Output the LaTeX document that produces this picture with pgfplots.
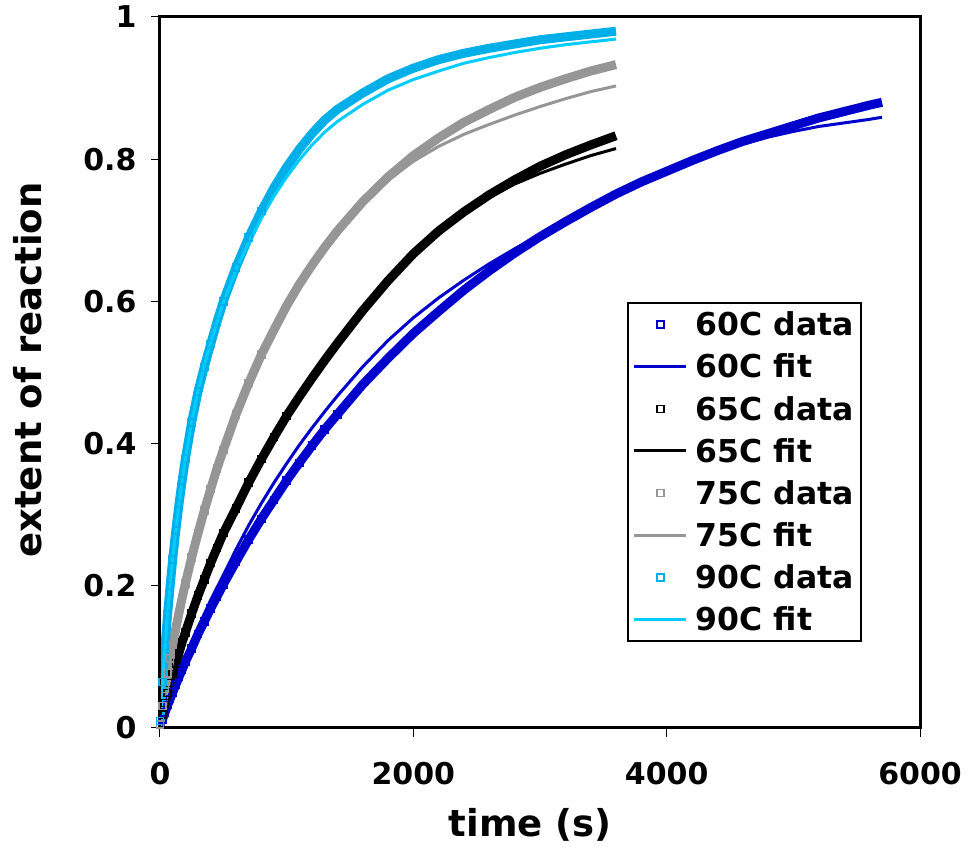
\documentclass[border=0pt]{standalone}
\usepackage{pgfplots}
\pgfplotsset{compat=1.18}
\usepackage{pgfplotstable}
\usepackage{fontspec}
\setmainfont{DejaVu Sans}
\definecolor{c60}{RGB}{0,0,204}
\definecolor{c75}{RGB}{150,150,150}
\definecolor{c90d}{RGB}{0,174,232}
\definecolor{c90f}{RGB}{0,204,255}

% 60C data
\pgfplotstableread{
t y
0 0.005
20 0.012
40 0.022
60 0.032
80 0.041
100 0.050
125 0.061
150 0.072
175 0.082
200 0.093
250 0.112
300 0.132
350 0.150
400 0.168
450 0.185
500 0.202
600 0.234
700 0.265
800 0.294
900 0.321
1000 0.348
1100 0.373
1200 0.397
1300 0.420
1400 0.441
1600 0.483
1800 0.520
2000 0.555
2200 0.586
2400 0.616
2600 0.643
2800 0.668
3000 0.691
3200 0.712
3400 0.732
3600 0.751
3800 0.768
4000 0.783
4200 0.798
4400 0.812
4600 0.825
4800 0.836
5000 0.847
5200 0.858
5400 0.867
5600 0.876
5700 0.880
}\dsixty
% 60C fit
\pgfplotstableread{
t y
0 0.000
100 0.054
200 0.099
300 0.141
400 0.180
500 0.215
600 0.251
700 0.285
800 0.316
900 0.345
1000 0.372
1100 0.398
1200 0.422
1300 0.445
1400 0.467
1600 0.508
1800 0.545
2000 0.577
2200 0.605
2400 0.630
2600 0.653
2800 0.674
3000 0.694
3200 0.713
3400 0.731
3600 0.750
3800 0.767
4000 0.782
4200 0.797
4400 0.810
4600 0.821
4800 0.831
5000 0.839
5200 0.846
5400 0.851
5600 0.856
5700 0.859
}\fsixty
% 65C data
\pgfplotstableread{
t y
0 0.005
20 0.019
40 0.035
60 0.049
80 0.063
100 0.076
125 0.091
150 0.106
175 0.121
200 0.134
250 0.161
300 0.186
350 0.209
400 0.232
450 0.253
500 0.274
600 0.309
700 0.345
800 0.378
900 0.409
1000 0.439
1100 0.466
1200 0.492
1300 0.517
1400 0.541
1600 0.587
1800 0.629
2000 0.667
2200 0.699
2400 0.726
2600 0.750
2800 0.771
3000 0.790
3200 0.806
3400 0.820
3600 0.833
}\dsixtyfive
% 65C fit
\pgfplotstableread{
t y
0 0.000
20 0.019
40 0.035
60 0.049
80 0.063
100 0.076
150 0.106
200 0.134
300 0.186
400 0.232
500 0.274
600 0.309
700 0.345
800 0.378
900 0.409
1000 0.439
1200 0.492
1400 0.541
1600 0.587
1800 0.628
2000 0.665
2200 0.696
2400 0.723
2600 0.746
2800 0.765
3000 0.780
3200 0.793
3400 0.805
3600 0.815
}\fsixtyfive
% 75C data
\pgfplotstableread{
t y
0 0.005
20 0.031
40 0.055
60 0.077
80 0.098
100 0.117
125 0.140
150 0.162
175 0.183
200 0.203
250 0.240
300 0.274
350 0.306
400 0.336
450 0.365
500 0.391
600 0.441
700 0.485
800 0.525
900 0.560
1000 0.594
1100 0.624
1200 0.651
1300 0.676
1400 0.699
1600 0.740
1800 0.775
2000 0.805
2200 0.830
2400 0.852
2600 0.870
2800 0.887
3000 0.901
3200 0.913
3400 0.924
3600 0.933
}\dseventyfive
% 75C fit
\pgfplotstableread{
t y
0 0.000
20 0.031
40 0.055
60 0.077
80 0.098
100 0.117
150 0.162
200 0.203
300 0.274
400 0.336
500 0.391
600 0.441
700 0.485
800 0.525
900 0.560
1000 0.594
1200 0.651
1400 0.699
1600 0.738
1800 0.770
2000 0.797
2200 0.818
2400 0.835
2600 0.849
2800 0.862
3000 0.874
3200 0.885
3400 0.895
3600 0.903
}\fseventyfive
% 90C data
\pgfplotstableread{
t y
0 0.010
20 0.065
40 0.115
60 0.160
80 0.200
100 0.237
125 0.278
150 0.315
175 0.348
200 0.378
250 0.430
300 0.473
350 0.508
400 0.540
450 0.571
500 0.600
600 0.648
700 0.690
800 0.727
900 0.760
1000 0.789
1100 0.814
1200 0.836
1300 0.855
1400 0.870
1600 0.893
1800 0.913
2000 0.928
2200 0.940
2400 0.949
2600 0.956
2800 0.962
3000 0.968
3200 0.972
3400 0.976
3600 0.980
}\dninety
% 90C fit
\pgfplotstableread{
t y
0 0.000
20 0.062
40 0.115
60 0.162
80 0.202
100 0.238
125 0.279
150 0.316
175 0.349
200 0.379
250 0.431
300 0.474
350 0.510
400 0.542
450 0.571
500 0.598
600 0.644
700 0.683
800 0.717
900 0.748
1000 0.775
1100 0.799
1200 0.820
1300 0.838
1400 0.853
1600 0.877
1800 0.897
2000 0.912
2200 0.924
2400 0.935
2600 0.943
2800 0.950
3000 0.956
3200 0.961
3400 0.965
3600 0.969
}\fninety

\begin{document}
\begin{tikzpicture}[x=1pt,y=1pt]
\useasboundingbox (0,0) rectangle (969,848);
\begin{axis}[
  at={(160pt,120pt)}, anchor=south west,
  scale only axis, width=760pt, height=711pt,
  xmin=0, xmax=6000, ymin=0, ymax=1,
  axis on top,
  axis line style={line width=3pt},
  tick style={line width=1pt, black},
  major tick length=9pt,
  tick align=outside,
  xtick pos=bottom, ytick pos=left,
  xtick={0,2000,4000,6000},
  xticklabels={0,2000,4000,6000},
  ytick={0,0.2,0.4,0.6,0.8,1},
  yticklabels={0,0.2,0.4,0.6,0.8,1},
  tick label style={font=\bfseries\fontsize{30}{30}\selectfont},
  xticklabel style={yshift=-22pt},
  yticklabel style={xshift=-11pt},
  label style={font=\bfseries\fontsize{37}{37}\selectfont},
  xlabel={time (s)},
  ylabel={extent of reaction},
  xlabel style={at={(rel axis cs:0.487,-0.1533)}, anchor=base},
  ylabel style={at={(rel axis cs:-0.1553,0.5035)}, anchor=base},
  legend cell align=left,
  legend image code/.code={\draw[mark repeat=2,mark phase=2] plot coordinates {(0pt,0pt) (26pt,0pt) (52pt,0pt)};},
  legend style={at={(rel axis cs:0.6145,0.599)}, anchor=north west,
    draw=black, line width=1.5pt,
    font=\bfseries\fontsize{31.5}{31.5}\selectfont,
    inner xsep=5pt, inner ysep=7pt,
    nodes={inner sep=2pt},
    row sep=12.7pt, column sep=6pt},
]
% 60C
\addplot[c60, line width=9pt, line join=round, forget plot] table {\dsixty};
\addplot[c60, only marks, mark=square, mark size=3.5pt, mark options={line width=1.5pt, fill=white},
  skip coords between index={25}{200}] table {\dsixty};
\addlegendentry{60C data}
\addplot[c60, line width=3pt, line join=round] table {\fsixty};
\addlegendentry{60C fit}
% 65C
\addplot[black, line width=9pt, line join=round, forget plot] table {\dsixtyfive};
\addplot[black, only marks, mark=square, mark size=3.5pt, mark options={line width=1.5pt, fill=white},
  skip coords between index={21}{200}] table {\dsixtyfive};
\addlegendentry{65C data}
\addplot[black, line width=3pt, line join=round] table {\fsixtyfive};
\addlegendentry{65C fit}
% 75C
\addplot[c75, line width=9pt, line join=round, forget plot] table {\dseventyfive};
\addplot[c75, only marks, mark=square, mark size=3.5pt, mark options={line width=1.5pt, fill=white},
  skip coords between index={19}{200}] table {\dseventyfive};
\addlegendentry{75C data}
\addplot[c75, line width=3pt, line join=round] table {\fseventyfive};
\addlegendentry{75C fit}
% 90C
\addplot[c90d, line width=9pt, line join=round, forget plot] table {\dninety};
\addplot[c90d, only marks, mark=square, mark size=3.5pt, mark options={line width=1.5pt, fill=white},
  skip coords between index={19}{200}] table {\dninety};
\addlegendentry{90C data}
\addplot[c90f, line width=3pt, line join=round] table {\fninety};
\addlegendentry{90C fit}
\end{axis}
\end{tikzpicture}
\end{document}
